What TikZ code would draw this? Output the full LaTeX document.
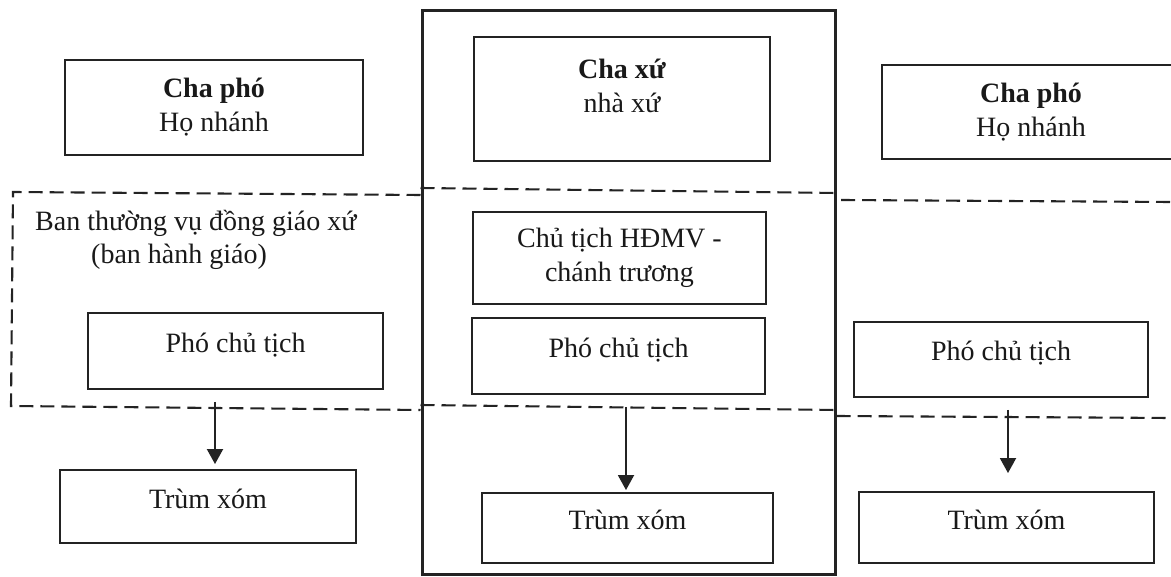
\documentclass[tikz,border=0pt]{standalone}
\usepackage{fontspec}
\setmainfont{Liberation Serif}
\usetikzlibrary{arrows.meta}
\definecolor{ink}{RGB}{25,25,25}
\definecolor{linec}{RGB}{35,35,35}
\begin{document}
\begin{tikzpicture}[x=1pt,y=-1pt,
  every node/.style={font=\fontsize{28}{34}\selectfont, text=ink},
  boxnode/.style={draw=linec, line width=1.9pt, inner sep=0pt, align=center},
  lowtext/.style={text height=20pt, text depth=17pt},
  dashln/.style={draw=linec, line width=2.1pt, dash pattern=on 14pt off 7pt},
  arr/.style={draw=linec, line width=1.9pt, -{Triangle[width=16pt,length=15pt]}},
  frame/.style={draw=linec, line width=3pt, inner sep=0pt}]
\clip (0,0) rectangle (1171,577);
\useasboundingbox (0,0) rectangle (1171,577);
\fill[white] (0,0) rectangle (1171,577);

% centre frame
\node[frame, minimum width=413pt, minimum height=563pt] (khung) at (628.5,292.5) {};

% top row
\node[boxnode, minimum width=298pt, minimum height=95pt] (lcha) at (214,107.5) {\textbf{Cha phó}\\Họ nhánh};
\node[boxnode, minimum width=296pt, minimum height=124pt] (ccha) at (622,99) {};
\node[align=center, inner sep=0pt] (chaxut) at (622,86) {\textbf{Cha xứ}\\nhà xứ};
\node[boxnode, minimum width=298pt, minimum height=94pt] (rcha) at (1031,112) {\textbf{Cha phó}\\Họ nhánh};

% middle
\node[inner sep=0pt, anchor=base west] (bantv1) at (35,231) {Ban thường vụ đồng giáo xứ};
\node[inner sep=0pt, anchor=base west] (bantv2) at (91,264) {(ban hành giáo)};
\node[boxnode, minimum width=293pt, minimum height=92pt] (cct) at (619.5,258) {Chủ tịch HĐMV -\\chánh trương};
\node[boxnode, lowtext, minimum width=295pt, minimum height=76pt] (lpho) at (235.5,351) {Phó chủ tịch};
\node[boxnode, lowtext, minimum width=293pt, minimum height=76pt] (cpho) at (618.5,356) {Phó chủ tịch};
\node[boxnode, lowtext, minimum width=294pt, minimum height=75pt] (rpho) at (1001,359.5) {Phó chủ tịch};

% bottom
\node[boxnode, lowtext, minimum width=296pt, minimum height=73pt] (ltrum) at (208,506.5) {Trùm xóm};
\node[boxnode, lowtext, minimum width=291pt, minimum height=70pt] (ctrum) at (627.5,528) {Trùm xóm};
\node[boxnode, lowtext, minimum width=295pt, minimum height=71pt] (rtrum) at (1006.5,527.5) {Trùm xóm};

% dashed bands
\draw[dashln] (khung.west |- 0,195) -- (13,192) -- (11,406) -- (khung.west |- 0,410);
\draw[dashln] (khung.west |- 0,188) -- (khung.east |- 0,193);
\draw[dashln] (khung.west |- 0,405) -- (khung.east |- 0,410);
\draw[dashln] (841,200) -- (1171,202);
\draw[dashln] (khung.east |- 0,416) -- (1171,418);

% arrows
\coordinate (la) at (215,402);
\coordinate (ca) at (626,407);
\coordinate (ra) at (1008,410);
\draw[arr, shorten >=5pt] (la) -- (la |- ltrum.north);
\draw[arr, shorten >=2pt] (ca) -- (ca |- ctrum.north);
\draw[arr, shorten >=18pt] (ra) -- (ra |- rtrum.north);
\end{tikzpicture}
\end{document}
